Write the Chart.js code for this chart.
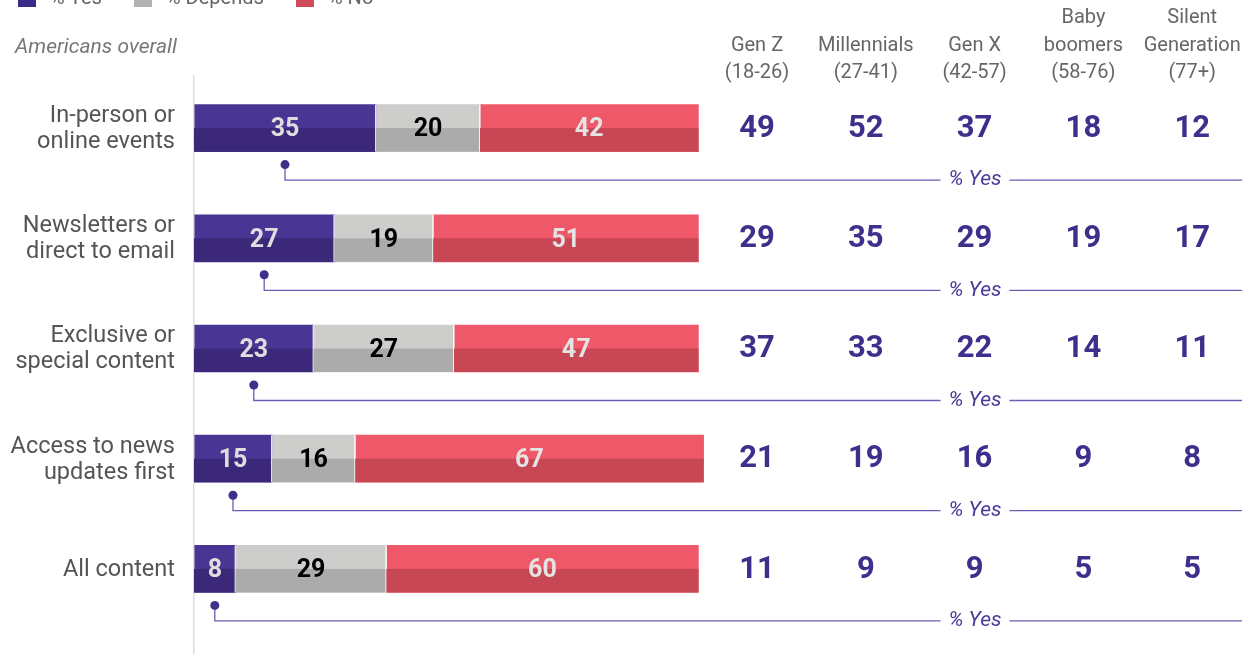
<!DOCTYPE html>
<html>
<head>
<meta charset="utf-8">
<script src="https://cdn.jsdelivr.net/npm/chart.js@4.4.0/dist/chart.umd.min.js"></script>
<style>
html,body{margin:0;padding:0;background:#fff;}
#c{display:block;}
</style>
</head>
<body>
<canvas id="c" width="1257" height="654"></canvas>
<script>
// ---- data ----
const categories = [
  ["In-person or", "online events"],
  ["Newsletters or", "direct to email"],
  ["Exclusive or", "special content"],
  ["Access to news", "updates first"],
  ["All content"]
];
const seriesNames = ["% Yes", "% Depends", "% No"];
const yesValues = [35, 27, 23, 15, 8];
const dependsValues = [20, 19, 27, 16, 29];
const noValues = [42, 51, 47, 67, 60];

const generationHeaders = [
  ["Gen Z", "(18-26)"],
  ["Millennials", "(27-41)"],
  ["Gen X", "(42-57)"],
  ["Baby", "boomers", "(58-76)"],
  ["Silent", "Generation", "(77+)"]
];
const genZ = [49, 29, 37, 21, 11];
const millennials = [52, 35, 33, 19, 9];
const genX = [37, 29, 22, 16, 9];
const boomers = [18, 19, 14, 9, 5];
const silent = [12, 17, 11, 8, 5];
const generationValues = [genZ, millennials, genX, boomers, silent];

const subtitle = "Americans overall";
const connectorLabel = "% Yes";

// ---- styles ----
const FONT = "Roboto, 'Open Sans', sans-serif";
const lightColors = ["#483594", "#cdcdcc", "#ef5868"];
const darkColors = ["#3b2878", "#ababab", "#c74755"];
const legendColors = ["#3b2a8a", "#b2b2b2", "#d04a5a"];
const labelColors = ["#dedede", "#000000", "#e4e4e4"];
const purple = "#3f2e8c";
const lineColor = "#6b5db3";

const overlayPlugin = {
  id: "overlay",
  afterDatasetsDraw(chart) {
    const ctx = chart.ctx;
    const area = chart.chartArea;
    const yScale = chart.scales.y;
    ctx.save();

    // axis line
    ctx.fillStyle = "#dcdcdc";
    ctx.fillRect(area.left - 1, 75, 1.5, chart.height - 75);

    // dark bottom halves, separators, labels
    chart.data.datasets.forEach((ds, i) => {
      const meta = chart.getDatasetMeta(i);
      meta.data.forEach((el, j) => {
        const p = el.getProps(["x", "y", "base", "height"], true);
        const l = Math.min(p.x, p.base), w = Math.abs(p.x - p.base);
        ctx.fillStyle = darkColors[i];
        ctx.fillRect(l, p.y, w, p.height / 2);
        if (i < chart.data.datasets.length - 1) {
          ctx.fillStyle = "rgba(255,255,255,0.85)";
          ctx.fillRect(l + w - 1, p.y - p.height / 2, 1.5, p.height);
        }
        ctx.fillStyle = labelColors[i];
        ctx.font = "bold 25px " + FONT;
        ctx.textAlign = "center";
        ctx.textBaseline = "middle";
        ctx.fillText(String(ds.data[j]), l + w / 2, p.y + 2);
      });
    });

    // category labels
    ctx.fillStyle = "#555555";
    ctx.font = "23.5px " + FONT;
    ctx.textAlign = "right";
    ctx.textBaseline = "middle";
    categories.forEach((lines, j) => {
      const cy = yScale.getPixelForValue(j);
      const n = lines.length;
      lines.forEach((t, k) => {
        ctx.fillText(t, 175, cy + 1 + (k - (n - 1) / 2) * 26);
      });
    });

    // generation columns
    const colX0 = 757, colStep = 108.8;
    ctx.textAlign = "center";
    generationHeaders.forEach((lines, c) => {
      const cx = colX0 + c * colStep;
      ctx.fillStyle = "#666666";
      ctx.font = "20px " + FONT;
      const n = lines.length;
      lines.forEach((t, k) => {
        ctx.fillText(t, cx, 73 - (n - 1 - k) * 27.5);
      });
      ctx.fillStyle = purple;
      ctx.font = "bold 31px " + FONT;
      generationValues[c].forEach((v, j) => {
        ctx.fillText(String(v), cx, yScale.getPixelForValue(j) + 1);
      });
    });

    // connectors
    const yesMeta = chart.getDatasetMeta(0);
    ctx.font = "italic 21px " + FONT;
    const tw = ctx.measureText(connectorLabel).width;
    const labelX = 975;
    yesMeta.data.forEach((el, j) => {
      const p = el.getProps(["x", "y", "base", "height"], true);
      const dx = (p.x + p.base) / 2;
      const dotY = p.y + p.height / 2 + 13;
      const lineY = p.y + 52;
      ctx.strokeStyle = lineColor;
      ctx.lineWidth = 1.3;
      ctx.beginPath();
      ctx.moveTo(dx, dotY);
      ctx.lineTo(dx, lineY);
      ctx.lineTo(labelX - tw / 2 - 8, lineY);
      ctx.moveTo(labelX + tw / 2 + 8, lineY);
      ctx.lineTo(1242, lineY);
      ctx.stroke();
      ctx.fillStyle = purple;
      ctx.beginPath();
      ctx.arc(dx, dotY, 4.5, 0, Math.PI * 2);
      ctx.fill();
      ctx.fillStyle = "#4a3a9a";
      ctx.textAlign = "center";
      ctx.textBaseline = "middle";
      ctx.fillText(connectorLabel, labelX, lineY);
    });

    // subtitle
    ctx.fillStyle = "#777777";
    ctx.font = "italic 21px " + FONT;
    ctx.textAlign = "left";
    ctx.fillText(subtitle, 15, 48);

    // legend (partially cut at top)
    const legendX = [18, 134, 296];
    ctx.font = "20px " + FONT;
    seriesNames.forEach((s, i) => {
      ctx.fillStyle = legendColors[i];
      ctx.fillRect(legendX[i], -11, 18, 18);
      ctx.fillStyle = "#666666";
      ctx.textBaseline = "alphabetic";
      ctx.fillText(s, legendX[i] + 32, 4);
    });

    ctx.restore();
  }
};

new Chart(document.getElementById("c"), {
  type: "bar",
  data: {
    labels: categories.map(c => c.join(" ")),
    datasets: [
      { label: seriesNames[0], data: yesValues, backgroundColor: lightColors[0] },
      { label: seriesNames[1], data: dependsValues, backgroundColor: lightColors[1] },
      { label: seriesNames[2], data: noValues, backgroundColor: lightColors[2] }
    ]
  },
  options: {
    indexAxis: "y",
    responsive: false,
    animation: false,
    events: [],
    layout: { padding: { left: 194, right: 543, top: 73, bottom: 30 } },
    datasets: { bar: { barThickness: 47, borderWidth: 0 } },
    scales: {
      x: { stacked: true, min: 0, max: 100, display: false },
      y: { stacked: true, display: false }
    },
    plugins: { legend: { display: false }, tooltip: { enabled: false } }
  },
  plugins: [overlayPlugin]
});
</script>
</body>
</html>
